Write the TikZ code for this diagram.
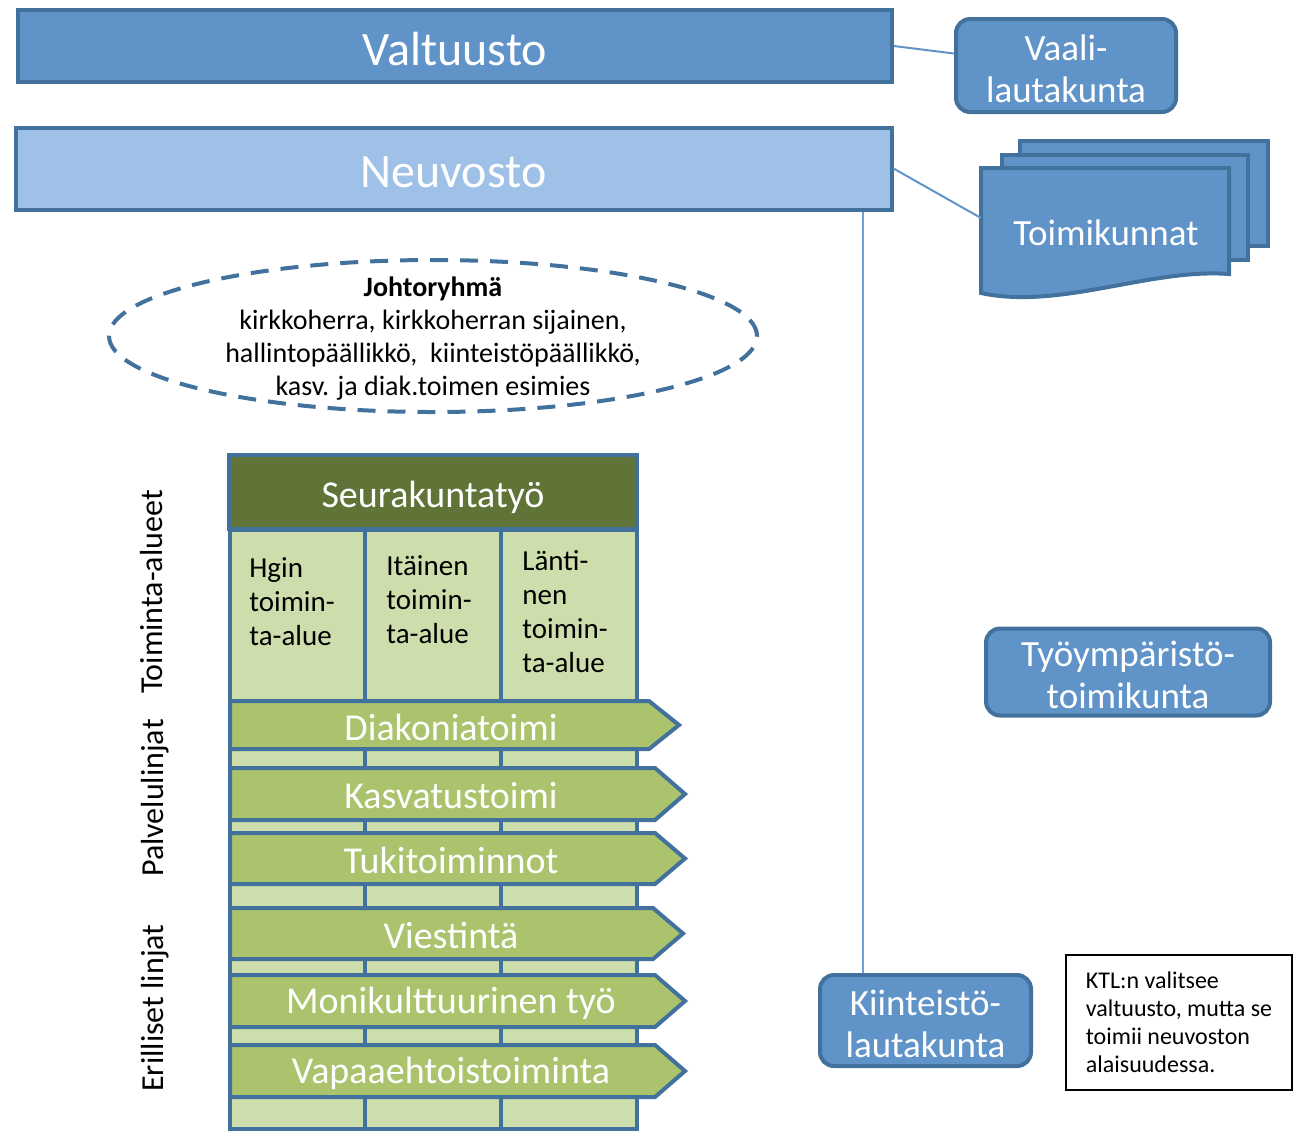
\documentclass[tikz,border=0pt]{standalone}
\usepackage{fontspec}
\setmainfont{Carlito}
\usetikzlibrary{shapes.geometric, positioning, calc}

\definecolor{boxblue}{RGB}{96,148,201}
\definecolor{lineblue}{RGB}{65,113,156}
\definecolor{paleblue}{RGB}{160,193,231}
\definecolor{thinblue}{RGB}{110,160,214}
\definecolor{darkgreen}{RGB}{95,116,54}
\definecolor{palegreen}{RGB}{205,221,171}
\definecolor{midgreen}{RGB}{170,195,108}

% first line a little taller, so two-line box texts sit lower
\newcommand{\toprule}{\rule{0pt}{16pt}}

\begin{document}
\begin{tikzpicture}[x=0.5pt,y=-0.5pt,
        bar node/.style={rectangle,draw=lineblue,line width=2pt,inner sep=0pt,text=white,
            text height=19pt,text depth=0pt,font=\fontsize{24}{28}\selectfont},
        unit node/.style={rectangle,rounded corners=7pt,draw=lineblue,line width=2pt,fill=boxblue,inner sep=0pt,
            text=white,align=center,font=\fontsize{18.5}{21}\selectfont},
        doc page/.style={draw=lineblue,line width=2pt,fill=boxblue},
        col box/.style={draw=lineblue,line width=2pt,fill=palegreen},
        col text/.style={anchor=north west,inner sep=0pt,align=left,font=\fontsize{14.5}{17}\selectfont},
        chevron/.style={draw=lineblue,line width=2pt,fill=midgreen},
        chevron text/.style={inner sep=0pt,text=white,font=\fontsize{19}{22}\selectfont},
        side label/.style={rotate=90,inner sep=0pt,font=\fontsize{16}{19}\selectfont},
        link/.style={line width=1pt,draw=boxblue}]
    \useasboundingbox (0,0) rectangle (1299,1132);

    % top level
    \node[bar node,fill=boxblue,minimum width=437pt,minimum height=36pt] (valtuusto) at (455,46) {Valtuusto};
    \node[bar node,fill=paleblue,minimum width=438pt,minimum height=41pt] (neuvosto) at (453.5,168.5) {Neuvosto};
    \node[unit node,minimum width=110pt,minimum height=46.5pt] (vaali) at (1066,65.5) {\toprule Vaali-\\lautakunta};

    % toimikunnat (multidocument)
    \draw[doc page] (1020,141) rectangle (1268,246);
    \draw[doc page] (1002,155) rectangle (1248,260);
    \draw[doc page] (981,168) -- (1229,168) -- (1229,274)
        .. controls (1150,268) and (1060,310) .. (981,293) -- cycle;
    \node[text=white,inner sep=0pt,font=\fontsize{18.5}{21}\selectfont] (toimikunnat) at (1106,233) {Toimikunnat};
    \coordinate (toimiin) at (981,218);

    \path[link]
    (valtuusto.east) edge ([yshift=6pt]vaali.west)
    (neuvosto.east) edge (toimiin);

    % johtoryhma
    \node[ellipse,draw=lineblue,line width=2pt,dash pattern=on 9pt off 6pt,
        minimum width=324pt,minimum height=76pt] (johto) at (433,336) {};
    \node[align=center,inner sep=0pt,font=\fontsize{14}{16.5}\selectfont] (johtotext) at (433,339)
        {\textbf{Johtoryhmä}\\kirkkoherra, kirkkoherran sijainen,\\hallintopäällikkö,\ \ kiinteistöpäällikkö,\\kasv. ja diak.toimen esimies};

    % seurakuntatyo
    \draw[col box] (230,530) rectangle (365,1129);
    \draw[col box] (365,530) rectangle (501,1129);
    \draw[col box] (501,530) rectangle (637,1129);
    \node[bar node,fill=darkgreen,minimum width=204pt,minimum height=37pt,text height=15.5pt,
        font=\fontsize{19}{22}\selectfont] (seurakunta) at (433,491.5) {Seurakuntatyö};

    \node[col text] (hgin) at (249,557) {Hgin\\toimin-\\ta-alue};
    \node[col text] (itainen) at (386,555) {Itäinen\\toimin-\\ta-alue};
    \node[col text] (lantinen) at (522,550) {Länti-\\nen\\toimin-\\ta-alue};

    \foreach \nm/\ya/\yb/\tip/\txt in {diakonia/701/749/679/Diakoniatoimi,
            kasvatus/768/820/685/Kasvatustoimi,
            tuki/833/884/685/Tukitoiminnot,
            viestinta/908/959/683/Viestintä,
            monikult/975/1027/685/Monikulttuurinen työ,
            vapaaeht/1045/1097/685/Vapaaehtoistoiminta}{
        \pgfmathsetmacro\ym{(\ya+\yb)/2}
        \draw[chevron] (230,\ya) -- (\tip-30,\ya) -- (\tip,\ym) -- (\tip-30,\yb) -- (230,\yb) -- cycle;
        \node[chevron text] (\nm) at (451,\ym+2) {\txt};
    }

    \node[side label] (toiminta) at (152,592) {Toiminta-alueet};
    \node[side label] (palvelu) at (155,798) {Palvelulinjat};
    \node[side label] (erilliset) at (155,1008) {Erilliset linjat};

    % right side
    \node[unit node,minimum width=142pt,minimum height=43.5pt] (tyoymparisto) at (1128,672) {\toprule Työympäristö-\\toimikunta};
    \node[unit node,minimum width=105.5pt,minimum height=45.5pt] (kiinteisto) at (925.5,1020.5) {\toprule Kiinteistö-\\lautakunta};
    \node[draw=black,line width=1pt,minimum width=113pt,minimum height=67.5pt,inner sep=0pt,
        align=left,font=\fontsize{12}{14}\selectfont] (huom) at (1179,1022.5)
        {KTL:n valitsee\\valtuusto, mutta se\\toimii neuvoston\\alaisuudessa.};

    \coordinate (kt) at ($(kiinteisto.north west)!0.21!(kiinteisto.north east)$);
    \draw[line width=1pt,thinblue] (kt |- neuvosto.south) -- (kt);
\end{tikzpicture}
\end{document}
